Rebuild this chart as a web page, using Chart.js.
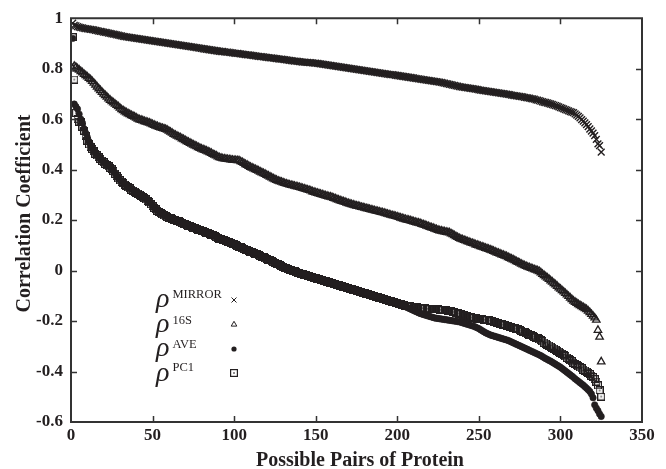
<!DOCTYPE html>
<html><head><meta charset="utf-8">
<script src="https://cdn.jsdelivr.net/npm/chart.js@4.4.1/dist/chart.umd.min.js"></script>
<style>html,body{margin:0;padding:0;background:#fff}canvas{display:block}</style>
</head><body>
<canvas id="c" width="666" height="469"></canvas>
<script>
// Correlation coefficients for each possible protein pair, sorted
const rhoMirror = [
0.980,0.972,0.970,0.967,0.965,0.963,0.962,0.960,0.959,0.958,
0.957,0.956,0.955,0.954,0.952,0.951,0.949,0.948,0.947,0.945,
0.944,0.943,0.941,0.940,0.938,0.937,0.936,0.934,0.933,0.931,
0.930,0.928,0.927,0.926,0.925,0.924,0.923,0.922,0.921,0.920,
0.919,0.918,0.917,0.916,0.915,0.914,0.913,0.912,0.911,0.910,
0.909,0.908,0.907,0.906,0.905,0.904,0.903,0.902,0.901,0.900,
0.899,0.898,0.897,0.896,0.895,0.894,0.893,0.892,0.891,0.890,
0.889,0.888,0.887,0.886,0.885,0.884,0.883,0.882,0.881,0.880,
0.879,0.878,0.877,0.876,0.875,0.874,0.873,0.872,0.871,0.870,
0.869,0.868,0.868,0.867,0.866,0.866,0.865,0.864,0.863,0.862,
0.861,0.861,0.860,0.859,0.858,0.857,0.856,0.855,0.855,0.854,
0.853,0.852,0.851,0.850,0.849,0.848,0.848,0.847,0.846,0.845,
0.844,0.843,0.843,0.842,0.841,0.840,0.839,0.838,0.838,0.837,
0.836,0.835,0.834,0.833,0.832,0.831,0.830,0.830,0.829,0.828,
0.827,0.826,0.826,0.825,0.825,0.824,0.824,0.823,0.822,0.822,
0.821,0.820,0.819,0.818,0.817,0.816,0.815,0.814,0.813,0.812,
0.811,0.810,0.809,0.808,0.807,0.806,0.805,0.804,0.803,0.802,
0.801,0.800,0.799,0.798,0.797,0.796,0.795,0.794,0.793,0.792,
0.791,0.790,0.789,0.788,0.787,0.786,0.785,0.784,0.783,0.782,
0.781,0.780,0.779,0.778,0.777,0.776,0.776,0.775,0.774,0.773,
0.772,0.771,0.770,0.769,0.768,0.767,0.766,0.765,0.764,0.763,
0.762,0.761,0.760,0.759,0.758,0.757,0.756,0.755,0.754,0.753,
0.752,0.751,0.750,0.749,0.748,0.747,0.746,0.744,0.743,0.741,
0.740,0.738,0.737,0.735,0.734,0.732,0.731,0.729,0.728,0.727,
0.726,0.725,0.724,0.723,0.722,0.721,0.720,0.719,0.718,0.716,
0.715,0.714,0.713,0.712,0.711,0.710,0.709,0.708,0.707,0.706,
0.705,0.704,0.703,0.702,0.701,0.700,0.699,0.698,0.697,0.695,
0.694,0.693,0.692,0.691,0.690,0.689,0.688,0.686,0.685,0.684,
0.683,0.681,0.680,0.679,0.676,0.675,0.673,0.671,0.669,0.667,
0.666,0.664,0.662,0.660,0.658,0.656,0.654,0.652,0.649,0.646,
0.644,0.641,0.638,0.636,0.633,0.630,0.628,0.626,0.621,0.616,
0.611,0.605,0.598,0.592,0.585,0.578,0.570,0.561,0.553,0.545,
0.535,0.520,0.502,0.495,0.469];

const rho16S = [
0.800,0.810,0.806,0.800,0.795,0.789,0.784,0.778,0.773,0.768,
0.762,0.757,0.750,0.743,0.736,0.728,0.721,0.714,0.707,0.700,
0.694,0.688,0.681,0.675,0.670,0.665,0.660,0.655,0.650,0.644,
0.638,0.634,0.630,0.626,0.622,0.619,0.615,0.612,0.609,0.605,
0.601,0.598,0.596,0.594,0.591,0.589,0.587,0.585,0.582,0.579,
0.576,0.573,0.571,0.568,0.566,0.564,0.562,0.560,0.557,0.553,
0.549,0.545,0.540,0.537,0.533,0.530,0.527,0.523,0.520,0.516,
0.512,0.509,0.505,0.502,0.498,0.495,0.492,0.488,0.485,0.482,
0.479,0.477,0.474,0.471,0.468,0.465,0.461,0.458,0.455,0.451,
0.448,0.446,0.444,0.443,0.442,0.441,0.440,0.439,0.438,0.437,
0.437,0.436,0.436,0.432,0.429,0.425,0.421,0.418,0.414,0.410,
0.407,0.404,0.401,0.398,0.395,0.391,0.388,0.385,0.382,0.378,
0.375,0.371,0.368,0.364,0.361,0.358,0.355,0.353,0.351,0.348,
0.346,0.344,0.342,0.340,0.338,0.337,0.335,0.333,0.332,0.330,
0.328,0.326,0.324,0.322,0.320,0.318,0.316,0.313,0.311,0.309,
0.307,0.305,0.303,0.301,0.299,0.297,0.295,0.293,0.292,0.290,
0.287,0.285,0.282,0.280,0.277,0.275,0.273,0.271,0.268,0.266,
0.264,0.262,0.260,0.258,0.256,0.255,0.253,0.251,0.250,0.248,
0.246,0.245,0.243,0.241,0.240,0.238,0.236,0.235,0.233,0.231,
0.230,0.228,0.226,0.224,0.222,0.220,0.218,0.217,0.215,0.213,
0.211,0.209,0.207,0.205,0.203,0.201,0.200,0.198,0.196,0.194,
0.192,0.190,0.189,0.187,0.184,0.182,0.180,0.177,0.175,0.172,
0.170,0.168,0.165,0.163,0.160,0.158,0.157,0.155,0.154,0.152,
0.151,0.150,0.146,0.143,0.139,0.135,0.132,0.128,0.125,0.123,
0.120,0.118,0.115,0.113,0.110,0.108,0.106,0.103,0.101,0.099,
0.096,0.094,0.092,0.089,0.087,0.085,0.082,0.080,0.077,0.074,
0.071,0.069,0.066,0.063,0.061,0.058,0.056,0.052,0.049,0.046,
0.043,0.040,0.036,0.033,0.030,0.026,0.023,0.020,0.017,0.014,
0.012,0.009,0.007,0.004,0.002,0.000,-0.003,-0.008,-0.014,-0.019,
-0.024,-0.029,-0.034,-0.040,-0.045,-0.051,-0.056,-0.062,-0.068,-0.073,
-0.079,-0.084,-0.090,-0.096,-0.102,-0.108,-0.114,-0.120,-0.125,-0.129,
-0.134,-0.138,-0.142,-0.146,-0.150,-0.154,-0.160,-0.166,-0.173,-0.180,
-0.187,-0.196,-0.236,-0.263,-0.361];

const rhoAve = [
0.920,0.660,0.650,0.640,0.620,0.600,0.585,0.562,0.545,0.528,
0.512,0.498,0.486,0.476,0.466,0.458,0.452,0.446,0.438,0.431,
0.425,0.420,0.416,0.412,0.405,0.396,0.386,0.376,0.367,0.359,
0.354,0.349,0.344,0.338,0.332,0.328,0.324,0.319,0.315,0.311,
0.307,0.303,0.299,0.294,0.289,0.285,0.279,0.273,0.266,0.259,
0.252,0.246,0.240,0.234,0.229,0.224,0.220,0.217,0.214,0.211,
0.209,0.206,0.204,0.202,0.199,0.197,0.194,0.191,0.187,0.184,
0.181,0.179,0.176,0.174,0.171,0.169,0.166,0.164,0.161,0.159,
0.156,0.154,0.151,0.149,0.146,0.144,0.141,0.138,0.135,0.132,
0.129,0.127,0.125,0.122,0.120,0.117,0.115,0.112,0.109,0.106,
0.103,0.100,0.097,0.094,0.092,0.089,0.086,0.083,0.080,0.078,
0.076,0.073,0.070,0.067,0.064,0.061,0.058,0.055,0.052,0.049,
0.046,0.043,0.040,0.037,0.034,0.031,0.028,0.025,0.021,0.017,
0.014,0.011,0.009,0.007,0.004,0.002,0.000,-0.002,-0.004,-0.007,
-0.009,-0.011,-0.013,-0.015,-0.017,-0.019,-0.021,-0.023,-0.025,-0.027,
-0.029,-0.031,-0.033,-0.035,-0.037,-0.039,-0.041,-0.043,-0.045,-0.047,
-0.049,-0.051,-0.053,-0.055,-0.057,-0.059,-0.061,-0.063,-0.065,-0.067,
-0.069,-0.071,-0.073,-0.075,-0.077,-0.079,-0.081,-0.083,-0.085,-0.087,
-0.089,-0.091,-0.093,-0.095,-0.097,-0.099,-0.101,-0.103,-0.105,-0.107,
-0.109,-0.111,-0.113,-0.115,-0.117,-0.119,-0.121,-0.124,-0.126,-0.128,
-0.131,-0.134,-0.137,-0.140,-0.143,-0.146,-0.149,-0.152,-0.155,-0.158,
-0.161,-0.164,-0.167,-0.170,-0.172,-0.174,-0.176,-0.178,-0.180,-0.182,
-0.184,-0.186,-0.188,-0.189,-0.190,-0.191,-0.192,-0.193,-0.194,-0.195,
-0.196,-0.197,-0.198,-0.199,-0.200,-0.201,-0.202,-0.203,-0.205,-0.207,
-0.209,-0.211,-0.213,-0.215,-0.217,-0.219,-0.221,-0.224,-0.227,-0.230,
-0.234,-0.238,-0.242,-0.246,-0.249,-0.252,-0.255,-0.257,-0.259,-0.261,
-0.263,-0.265,-0.267,-0.269,-0.271,-0.273,-0.275,-0.277,-0.280,-0.283,
-0.286,-0.289,-0.292,-0.295,-0.298,-0.301,-0.304,-0.307,-0.310,-0.313,
-0.316,-0.319,-0.322,-0.325,-0.328,-0.331,-0.334,-0.337,-0.341,-0.345,
-0.349,-0.352,-0.356,-0.359,-0.363,-0.367,-0.371,-0.375,-0.379,-0.383,
-0.388,-0.393,-0.398,-0.403,-0.408,-0.413,-0.418,-0.423,-0.429,-0.434,
-0.439,-0.444,-0.449,-0.454,-0.460,-0.466,-0.472,-0.479,-0.489,-0.504,
-0.532,-0.545,-0.555,-0.568,-0.578];

const rhoPC1 = [
0.925,0.757,0.625,0.600,0.590,0.587,0.570,0.555,0.535,0.515,
0.500,0.490,0.482,0.472,0.462,0.456,0.450,0.443,0.436,0.429,
0.423,0.418,0.413,0.408,0.403,0.394,0.384,0.374,0.365,0.358,
0.352,0.347,0.341,0.335,0.330,0.326,0.321,0.317,0.313,0.309,
0.305,0.301,0.296,0.291,0.287,0.282,0.276,0.270,0.263,0.256,
0.249,0.243,0.237,0.232,0.227,0.223,0.219,0.215,0.212,0.210,
0.207,0.205,0.202,0.200,0.198,0.195,0.192,0.189,0.186,0.183,
0.180,0.177,0.175,0.172,0.170,0.167,0.165,0.162,0.160,0.157,
0.155,0.152,0.150,0.147,0.145,0.142,0.139,0.136,0.133,0.130,
0.127,0.125,0.122,0.120,0.117,0.115,0.112,0.110,0.107,0.104,
0.101,0.098,0.095,0.092,0.089,0.086,0.083,0.081,0.078,0.075,
0.073,0.070,0.067,0.064,0.061,0.058,0.055,0.052,0.049,0.046,
0.043,0.040,0.037,0.034,0.031,0.028,0.025,0.022,0.018,0.015,
0.012,0.009,0.006,0.004,0.001,-0.001,-0.003,-0.006,-0.008,-0.010,
-0.012,-0.014,-0.016,-0.018,-0.020,-0.022,-0.024,-0.026,-0.028,-0.030,
-0.032,-0.034,-0.036,-0.038,-0.040,-0.042,-0.044,-0.046,-0.048,-0.050,
-0.052,-0.054,-0.056,-0.058,-0.060,-0.062,-0.064,-0.066,-0.068,-0.070,
-0.072,-0.074,-0.076,-0.078,-0.080,-0.082,-0.084,-0.086,-0.088,-0.090,
-0.092,-0.094,-0.096,-0.098,-0.100,-0.102,-0.104,-0.106,-0.108,-0.110,
-0.112,-0.114,-0.116,-0.118,-0.120,-0.122,-0.124,-0.126,-0.128,-0.130,
-0.132,-0.134,-0.136,-0.138,-0.139,-0.140,-0.141,-0.142,-0.143,-0.144,
-0.145,-0.146,-0.147,-0.148,-0.149,-0.150,-0.150,-0.151,-0.151,-0.152,
-0.152,-0.153,-0.153,-0.154,-0.154,-0.155,-0.155,-0.156,-0.157,-0.158,
-0.159,-0.160,-0.161,-0.163,-0.165,-0.167,-0.169,-0.171,-0.173,-0.175,
-0.177,-0.179,-0.181,-0.183,-0.185,-0.187,-0.188,-0.189,-0.190,-0.191,
-0.192,-0.193,-0.194,-0.195,-0.196,-0.197,-0.199,-0.201,-0.203,-0.205,
-0.207,-0.209,-0.211,-0.213,-0.215,-0.217,-0.219,-0.221,-0.223,-0.225,
-0.227,-0.229,-0.231,-0.233,-0.236,-0.239,-0.242,-0.245,-0.248,-0.251,
-0.254,-0.257,-0.260,-0.263,-0.266,-0.269,-0.273,-0.277,-0.281,-0.285,
-0.289,-0.293,-0.297,-0.301,-0.305,-0.309,-0.313,-0.317,-0.321,-0.325,
-0.330,-0.335,-0.340,-0.345,-0.350,-0.355,-0.360,-0.365,-0.370,-0.375,
-0.380,-0.384,-0.388,-0.392,-0.396,-0.400,-0.405,-0.410,-0.416,-0.422,
-0.430,-0.440,-0.455,-0.475,-0.499];

const seriesLabels = ['MIRROR', '16S', 'AVE', 'PC1'];
const xTitle = 'Possible Pairs of Protein';
const yTitle = 'Correlation Coefficient';

const INK = '#231f20';
const SERIF = '"Liberation Serif", "Times New Roman", Times, serif';

function squareDot() {
  const c = document.createElement('canvas');
  c.width = 8; c.height = 8;
  const g = c.getContext('2d');
  g.strokeStyle = INK; g.lineWidth = 1.2;
  g.strokeRect(0.6, 0.6, 6.8, 6.8);
  g.fillStyle = INK; g.fillRect(3.3, 3.3, 1.4, 1.4);
  return c;
}
const sqImg = squareDot();

const toPoints = arr => arr.map((v, i) => ({ x: i + 1, y: v }));

const datasets = [
  { label: seriesLabels[0], data: toPoints(rhoMirror), pointStyle: 'crossRot', pointRadius: 4.8, borderColor: INK, backgroundColor: INK, pointBorderWidth: 1.4 },
  { label: seriesLabels[1], data: toPoints(rho16S), pointStyle: 'triangle', pointRadius: 4.3, borderColor: INK, backgroundColor: 'rgba(0,0,0,0)', pointBorderWidth: 1.3 },
  { label: seriesLabels[2], data: toPoints(rhoAve), pointStyle: 'circle', pointRadius: 3.2, borderColor: INK, backgroundColor: INK, pointBorderWidth: 0.6 },
  { label: seriesLabels[3], data: toPoints(rhoPC1), pointStyle: sqImg, pointRadius: 4, borderColor: INK, backgroundColor: 'rgba(0,0,0,0)', pointBorderWidth: 1 }
];

function drawFrame(chart) {
  const { ctx, chartArea: a } = chart;
  const x = chart.scales.x, y = chart.scales.y;
  ctx.save();
  ctx.strokeStyle = '#333333';
  ctx.lineWidth = 1.5;
  ctx.beginPath();
  x.ticks.forEach(t => {
    const px = Math.round(x.getPixelForValue(t.value)) + 0.5;
    if (px <= a.left + 2 || px >= a.right - 2) return;
    ctx.moveTo(px, a.bottom); ctx.lineTo(px, a.bottom - 6);
    ctx.moveTo(px, a.top); ctx.lineTo(px, a.top + 6);
  });
  y.ticks.forEach(t => {
    const py = Math.round(y.getPixelForValue(t.value)) + 0.5;
    if (py <= a.top + 2 || py >= a.bottom - 2) return;
    ctx.moveTo(a.left, py); ctx.lineTo(a.left + 6, py);
    ctx.moveTo(a.right, py); ctx.lineTo(a.right - 6, py);
  });
  ctx.stroke();
  ctx.lineWidth = 2;
  ctx.beginPath();
  ctx.rect(a.left, a.top, a.right - a.left, a.bottom - a.top);
  ctx.stroke();
  ctx.restore();
}

const framePlugin = {
  id: 'frame',
  afterDatasetsDraw(chart) { drawFrame(chart); },
  afterDraw(chart) {
    const { ctx } = chart;
    ctx.save();
    ctx.fillStyle = INK;
    ctx.font = 'bold 20px ' + SERIF;
    ctx.textAlign = 'center';
    ctx.textBaseline = 'alphabetic';
    ctx.fillText(xTitle, 360, 466);
    ctx.translate(29.5, 213.5);
    ctx.rotate(-Math.PI / 2);
    ctx.fillText(yTitle, 0, 0);
    ctx.restore();

    ctx.save();
    ctx.fillStyle = INK; ctx.strokeStyle = INK;
    const rowY = [306.5, 331.5, 356, 380.5];
    const supY = [297.5, 324, 347.5, 371];
    const mkY = [300, 324.5, 349, 373];
    const mx = 234;
    seriesLabels.forEach((lab, i) => {
      ctx.textAlign = 'left'; ctx.textBaseline = 'alphabetic';
      ctx.font = 'italic 28px ' + SERIF;
      ctx.fillText('\u03c1', 156, rowY[i]);
      ctx.font = '12.5px ' + SERIF;
      ctx.fillText(lab, 172.5, supY[i]);
      const cy = mkY[i];
      ctx.lineWidth = 1;
      ctx.beginPath();
      if (i === 0) {
        ctx.moveTo(mx - 2.5, cy - 2.5); ctx.lineTo(mx + 2.5, cy + 2.5);
        ctx.moveTo(mx + 2.5, cy - 2.5); ctx.lineTo(mx - 2.5, cy + 2.5);
        ctx.stroke();
      } else if (i === 1) {
        ctx.moveTo(mx, cy - 3.2); ctx.lineTo(mx + 2.8, cy + 1.6); ctx.lineTo(mx - 2.8, cy + 1.6); ctx.closePath();
        ctx.stroke();
      } else if (i === 2) {
        ctx.arc(mx, cy, 2.6, 0, Math.PI * 2); ctx.fill();
      } else {
        ctx.drawImage(sqImg, Math.round(mx - 4), Math.round(cy - 4));
      }
    });
    ctx.restore();
  }
};

new Chart(document.getElementById('c'), {
  type: 'scatter',
  data: { datasets },
  options: {
    responsive: false,
    animation: false,
    devicePixelRatio: 1,
    layout: { padding: { left: 0, right: 24, top: 15, bottom: 0 } },
    plugins: { legend: { display: false }, tooltip: { enabled: false } },
    elements: { point: { hoverRadius: 0 } },
    scales: {
      x: {
        type: 'linear', min: 0, max: 350,
        afterFit: s => { s.height = 47; },
        grid: { display: false, drawTicks: false }, border: { display: false },
        ticks: { stepSize: 50, color: INK, padding: 3, font: { family: SERIF, size: 17, weight: 'bold' } }
      },
      y: {
        type: 'linear', min: -0.6, max: 1,
        afterFit: s => { s.width = 71; },
        grid: { display: false, drawTicks: false }, border: { display: false },
        ticks: {
          stepSize: 0.2, color: INK, padding: 8,
          font: { family: SERIF, size: 17, weight: 'bold' },
          callback: v => { const r = Math.round(v * 10) / 10; return r === 0 ? '0' : String(r); }
        }
      }
    }
  },
  plugins: [framePlugin]
});
</script>
</body></html>
